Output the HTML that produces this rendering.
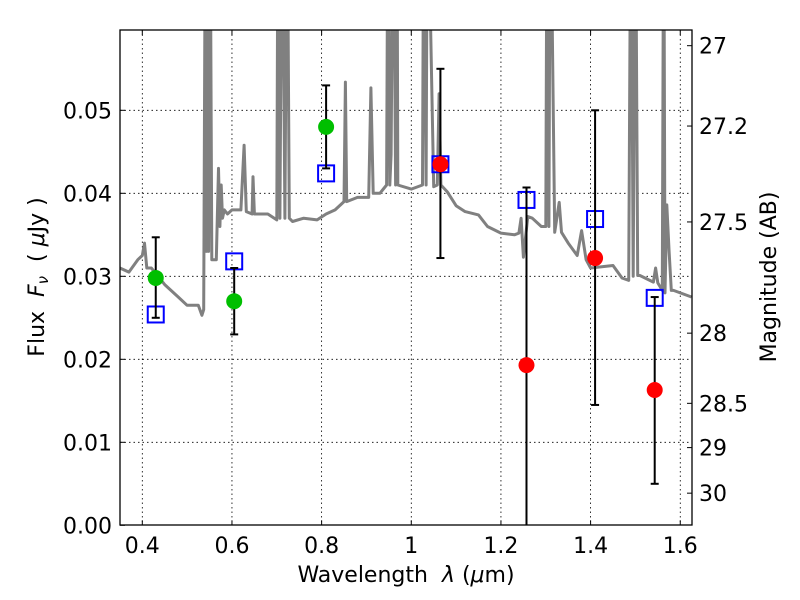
<!DOCTYPE html>
<html><head><meta charset="utf-8"><style>
html,body{margin:0;padding:0;background:#fff;}
svg{display:block;font-family:"DejaVu Sans","Liberation Sans",sans-serif;}
</style></head><body>
<svg id="chart" width="800" height="600" viewBox="0 0 800 600" xmlns="http://www.w3.org/2000/svg">
<rect x="0" y="0" width="800" height="600" fill="#fff"/>
<defs><clipPath id="pc"><rect x="120" y="30" width="572" height="495"/></clipPath></defs>
<g id="grid"></g>
<g id="spec" clip-path="url(#pc)"></g>
<g id="marks" clip-path="url(#pc)"></g>
<rect x="120" y="30" width="572" height="495" fill="none" stroke="#000" stroke-width="1.3"/>
<g id="axes"></g>
<text x="406" y="582" font-size="22" text-anchor="middle">Wavelength&#160;&#160;<tspan font-style="italic">λ</tspan> (<tspan font-style="italic">μ</tspan>m)</text>
<text transform="translate(44,277) rotate(-90)" font-size="22" text-anchor="middle">Flux&#160;&#160;<tspan font-style="italic">F</tspan><tspan font-style="italic" font-size="15" dy="4">ν</tspan><tspan dy="-4">&#160;&#160;(&#160;</tspan><tspan font-style="italic">μ</tspan>Jy )</text>
<text transform="translate(776,277) rotate(-90)" font-size="22" text-anchor="middle">Magnitude (AB)</text>
</svg>
<script>
const xTicks = [0.4,0.6,0.8,1.0,1.2,1.4,1.6];
const xTickLabels = ["0.4","0.6","0.8","1","1.2","1.4","1.6"];
const yTicks = [0,0.01,0.02,0.03,0.04,0.05];
const yTickLabels = ["0.00","0.01","0.02","0.03","0.04","0.05"];
const magTicks = [27,27.2,27.5,28,28.5,29,30];
const magTickLabels = ["27","27.2","27.5","28","28.5","29","30"];
const greenWl = [0.43,0.605,0.81];
const greenFlux = [0.0298,0.0270,0.0480];
const greenErrLo = [0.0250,0.0230,0.0430];
const greenErrHi = [0.0347,0.0310,0.0530];
const redWl = [1.065,1.257,1.41,1.543];
const redFlux = [0.0435,0.0193,0.0322,0.0163];
const redErrLo = [0.0322,-0.01,0.0145,0.0050];
const redErrHi = [0.0550,0.0407,0.0500,0.0275];
const modelWl = [0.43,0.605,0.81,1.065,1.257,1.41,1.543];
const modelFlux = [0.0254,0.0318,0.0424,0.0435,0.0392,0.0369,0.0274];
const specWl = [0.35,0.37,0.39,0.40,0.405,0.41,0.42,0.45,0.48,0.50,0.525,0.533,0.537,0.541,0.543,0.546,0.548,0.551,0.555,0.565,0.57,0.573,0.576,0.579,0.583,0.59,0.60,0.62,0.627,0.632,0.645,0.647,0.65,0.68,0.70,0.703,0.707,0.712,0.718,0.723,0.728,0.735,0.76,0.79,0.81,0.83,0.85,0.853,0.856,0.88,0.905,0.91,0.915,0.93,0.945,0.948,0.952,0.955,0.96,0.965,0.968,0.97,1.0,1.025,1.028,1.033,1.036,1.05,1.058,1.062,1.066,1.08,1.10,1.12,1.15,1.17,1.20,1.23,1.24,1.245,1.25,1.26,1.27,1.29,1.30,1.303,1.307,1.31,1.32,1.33,1.335,1.35,1.37,1.38,1.39,1.40,1.45,1.47,1.485,1.49,1.495,1.50,1.505,1.51,1.54,1.545,1.55,1.56,1.563,1.566,1.57,1.575,1.58,1.585,1.625];
const specFlux = [0.031,0.0305,0.032,0.0325,0.034,0.031,0.031,0.029,0.0275,0.0265,0.0265,0.0253,0.026,0.08,0.033,0.08,0.033,0.08,0.032,0.032,0.043,0.036,0.041,0.037,0.038,0.0375,0.038,0.038,0.0458,0.0378,0.0375,0.042,0.0375,0.0375,0.0368,0.08,0.037,0.08,0.037,0.08,0.037,0.0366,0.037,0.0368,0.0375,0.038,0.039,0.0534,0.039,0.0395,0.0395,0.0527,0.040,0.040,0.041,0.08,0.041,0.0447,0.08,0.041,0.08,0.041,0.0405,0.041,0.08,0.041,0.08,0.0408,0.041,0.052,0.041,0.0402,0.0385,0.0378,0.0374,0.036,0.0352,0.035,0.0352,0.037,0.0323,0.0372,0.037,0.036,0.036,0.08,0.036,0.08,0.0353,0.0389,0.0353,0.034,0.0325,0.0355,0.032,0.031,0.0313,0.0298,0.0295,0.08,0.03,0.08,0.0301,0.0301,0.0293,0.031,0.0292,0.0283,0.08,0.028,0.0386,0.033,0.0283,0.0283,0.0275];

const NS="http://www.w3.org/2000/svg";
const X0=120,X1=692,Y0=525.3,Y1=30;
function xs(w){return 142.3+(w-0.4)*448.3;}
function ys(f){return Y0-f*8300;}
function magToFlux(m){return Math.pow(10,-0.4*(m-23.9));}
function mk(tag,attrs,parent){const e=document.createElementNS(NS,tag);for(const k in attrs)e.setAttribute(k,attrs[k]);parent.appendChild(e);return e;}
const grid=document.getElementById('grid'),axes=document.getElementById('axes');
xTicks.forEach((t,i)=>{
  const x=xs(t);
  const g=mk('line',{x1:x,x2:x,y1:Y1,y2:Y0,stroke:'#000','stroke-width':0.8,'stroke-dasharray':'1.5,3'},grid);
  
  
  mk('line',{x1:x,x2:x,y1:Y0,y2:Y0-5,stroke:'#000','stroke-width':1},axes);
  mk('line',{x1:x,x2:x,y1:Y1,y2:Y1+5,stroke:'#000','stroke-width':1},axes);
  const tx=mk('text',{x:x,y:553,'font-size':22,'text-anchor':'middle'},axes);
  tx.textContent=xTickLabels[i];
  
  
});
yTicks.forEach((t,i)=>{
  const y=ys(t);
  if(t>0){const g=mk('line',{x1:X0,x2:X1,y1:y,y2:y,stroke:'#000','stroke-width':0.8,'stroke-dasharray':'1.5,3'},grid);
  
  }
  mk('line',{x1:X0,x2:X0+5,y1:y,y2:y,stroke:'#000','stroke-width':1},axes);
  const tx=mk('text',{x:112,y:y+8,'font-size':22,'text-anchor':'end'},axes);
  tx.textContent=yTickLabels[i];
  
  
});
magTicks.forEach((m,i)=>{
  const y=ys(magToFlux(m))-2;
  mk('line',{x1:X1-5,x2:X1,y1:y,y2:y,stroke:'#000','stroke-width':1},axes);
  const tx=mk('text',{x:699,y:y+8,'font-size':22,'text-anchor':'start'},axes);
  tx.textContent=magTickLabels[i];
  
  
});
const spec=document.getElementById('spec');
let d='';specWl.forEach((w,i)=>{d+=(i?'L':'M')+xs(w).toFixed(1)+','+ys(specFlux[i]).toFixed(1);});
const sp=mk('path',{d:d,fill:'none',stroke:'#808080','stroke-width':3,'stroke-linejoin':'round'},spec);


const marks=document.getElementById('marks');
function errbar(w,lo,hi){
  const x=xs(w);
  const e=mk('g',{},marks);
  
  
  mk('line',{x1:x,x2:x,y1:ys(lo),y2:ys(hi),stroke:'#000','stroke-width':2},e);
  mk('line',{x1:x-4,x2:x+4,y1:ys(lo),y2:ys(lo),stroke:'#000','stroke-width':2},e);
  mk('line',{x1:x-4,x2:x+4,y1:ys(hi),y2:ys(hi),stroke:'#000','stroke-width':2},e);
}
modelWl.forEach((w,i)=>{
  const s=mk('rect',{x:xs(w)-8,y:ys(modelFlux[i])-8,width:16,height:16,fill:'none',stroke:'#0000ff','stroke-width':2},marks);
  
  
});
greenWl.forEach((w,i)=>{
  errbar(w,greenErrLo[i],greenErrHi[i]);
  const c=mk('circle',{cx:xs(w),cy:ys(greenFlux[i]),r:8,fill:'#00bf00'},marks);
  
  
});
redWl.forEach((w,i)=>{
  errbar(w,redErrLo[i],redErrHi[i]);
  const c=mk('circle',{cx:xs(w),cy:ys(redFlux[i]),r:8,fill:'#ff0000'},marks);
  
  
});
</script>
</body></html>
